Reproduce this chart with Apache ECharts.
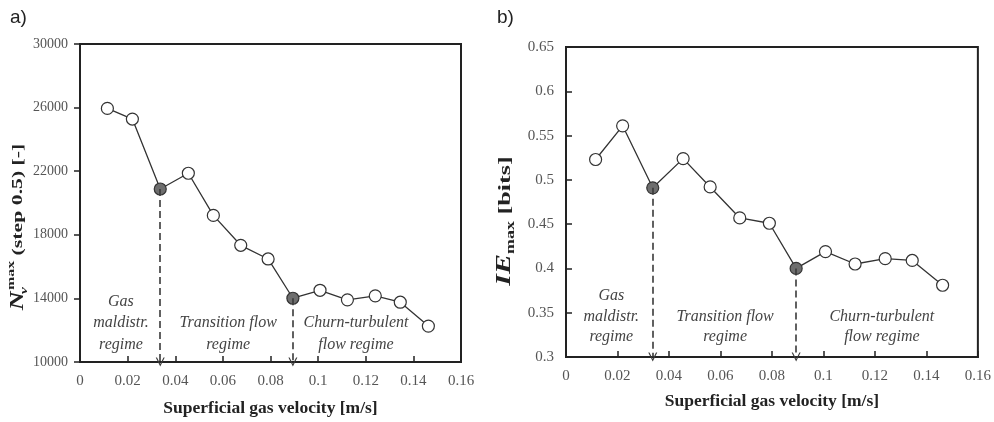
<!DOCTYPE html>
<html>
<head>
<meta charset="utf-8">
<script src="https://cdn.jsdelivr.net/npm/echarts@6/dist/echarts.min.js"></script>
<style>
  html, body { margin: 0; padding: 0; background: #fff; }
  #box { width: 994px; height: 422px; }
</style>
</head>
<body>
<div id="box"></div>
<script>
// superficial gas velocity [m/s]
var velocity = [0.0115, 0.022, 0.0337, 0.0455, 0.056, 0.0675, 0.079, 0.0894, 0.1008, 0.1123, 0.124, 0.1345, 0.1463];
// a) Nv max (step 0.5)
var nvMax = [25950, 25280, 20880, 21870, 19220, 17340, 16480, 14010, 14510, 13910, 14160, 13760, 12260];
// b) IE max [bits]
var ieMax = [0.523, 0.561, 0.491, 0.524, 0.492, 0.457, 0.451, 0.400, 0.419, 0.405, 0.411, 0.409, 0.381];
// regime transition points (filled markers)
var transitionIdx = [2, 7];

var xTicks = [0, 0.02, 0.04, 0.06, 0.08, 0.1, 0.12, 0.14, 0.16];
var nvTicks = [10000, 14000, 18000, 22000, 26000, 30000];
var ieTicks = [0.3, 0.35, 0.4, 0.45, 0.5, 0.55, 0.6, 0.65];

var regimeNames = ['Gas\nmaldistr.\nregime', 'Transition flow\nregime', 'Churn-turbulent\nflow regime'];
var regimeXa = [0.0172, 0.0622, 0.1159];
var regimeYa = [12445, 11787, 11787];
var regimeXb = [0.0176, 0.0618, 0.1227];
var regimeYb = [0.3455, 0.3341, 0.3341];

var serif = '"Liberation Serif", "Times New Roman", serif';
var myChart = echarts.init(document.getElementById('box'));

function points(ys) {
    var list = [];
    for (let i = 0; i < ys.length; i++) {
        var item = { value: [velocity[i], ys[i]] };
        if (transitionIdx.indexOf(i) >= 0) {
            item.itemStyle = { color: '#6e6e6e' };
        }
        list.push(item);
    }
    return list;
}

function arrows(ys, bottom) {
    return transitionIdx.map(function (i) {
        return [{ coord: [velocity[i], ys[i]] }, { coord: [velocity[i], bottom] }];
    });
}

function regimes(xs, ys) {
    var list = [];
    for (let i = 0; i < regimeNames.length; i++) {
        list.push({ coord: [xs[i], ys[i]], value: regimeNames[i] });
    }
    return list;
}

function xAxisOf(idx, gap) {
    return {
        gridIndex: idx,
        type: 'value',
        min: 0,
        max: 0.16,
        name: 'Superficial gas velocity [m/s]',
        nameLocation: 'middle',
        nameGap: gap,
        nameTextStyle: { fontFamily: serif, fontWeight: 'bold', fontSize: 17.5, color: '#222' },
        axisLine: { show: true, lineStyle: { color: '#222', width: 2 } },
        axisTick: { show: true, inside: true, length: 6, customValues: xTicks, lineStyle: { color: '#222', width: 1.5 } },
        axisLabel: { customValues: xTicks, fontFamily: serif, fontSize: 15, color: '#555', margin: 12 },
        splitLine: { show: false }
    };
}

var arrowHead = 'path://M0,10 L5,0 L10,10 L8.6,10 L5,2.8 L1.4,10 Z';

function markerSeries(idx, ys, xs, rys, bottom, lh) {
    return [{
        type: 'line',
        xAxisIndex: idx,
        yAxisIndex: idx,
        data: [],
        z: 1,
        silent: true,
        markLine: {
            silent: true,
            symbol: ['none', arrowHead],
            symbolSize: [9, 9],
            label: { show: false },
            lineStyle: { color: '#3a3a3a', type: [7, 4], width: 1.6 },
            data: arrows(ys, bottom)
        },
        markPoint: {
            symbol: 'circle',
            symbolSize: 0,
            label: {
                show: true,
                position: 'inside',
                formatter: function (p) { return p.value; },
                fontFamily: serif,
                fontStyle: 'italic',
                fontSize: 16,
                lineHeight: lh,
                color: '#444'
            },
            data: regimes(xs, rys)
        }
    }, {
        type: 'line',
        xAxisIndex: idx,
        yAxisIndex: idx,
        z: 3,
        data: points(ys),
        symbol: 'circle',
        symbolSize: 12,
        lineStyle: { color: '#333', width: 1.3 },
        itemStyle: { color: '#fff', borderColor: '#333', borderWidth: 1.2 }
    }];
}

var option = {
    backgroundColor: '#fff',
    animation: false,
    grid: [
        { left: 80, top: 44, width: 381, height: 319, show: true, borderColor: '#222', borderWidth: 2 },
        { left: 566, top: 47, width: 416, height: 310, show: true, borderColor: '#222', borderWidth: 2 }
    ],
    xAxis: [xAxisOf(0, 37), xAxisOf(1, 35)],
    yAxis: [{
        gridIndex: 0,
        type: 'value',
        min: 10000,
        max: 30000,
        axisLine: { show: true, lineStyle: { color: '#222', width: 2 } },
        axisTick: { show: true, inside: false, length: 6, customValues: nvTicks, lineStyle: { color: '#222', width: 1.5 } },
        axisLabel: {
            customValues: nvTicks,
            formatter: function (v) { return String(v); },
            fontFamily: serif, fontSize: 14, color: '#555', margin: 12
        },
        splitLine: { show: false }
    }, {
        gridIndex: 1,
        type: 'value',
        min: 0.3,
        max: 0.65,
        axisLine: { show: true, lineStyle: { color: '#222', width: 2 } },
        axisTick: { show: true, inside: true, length: 6, customValues: ieTicks, lineStyle: { color: '#222', width: 1.5 } },
        axisLabel: {
            customValues: ieTicks,
            formatter: function (v) { return String(+v.toFixed(2)); },
            fontFamily: serif, fontSize: 15, color: '#555', margin: 12
        },
        splitLine: { show: false }
    }],
    series: markerSeries(0, nvMax, regimeXa, regimeYa, 10000, 21.5)
        .concat(markerSeries(1, ieMax, regimeXb, regimeYb, 0.3, 20.5)),
    graphic: [{
        type: 'text',
        left: 10,
        top: 8,
        style: { text: 'a)', font: '19px "Liberation Sans", Arial, sans-serif', fill: '#222' }
    }, {
        type: 'text',
        left: 497,
        top: 8,
        style: { text: 'b)', font: '19px "Liberation Sans", Arial, sans-serif', fill: '#222' }
    }, {
        type: 'text',
        x: 18,
        y: 227,
        rotation: Math.PI / 2,
        scaleX: 1.45,
        style: {
            text: '{n|N}{v|v}{m|max}{t| (step 0.5) [-]}',
            align: 'center',
            verticalAlign: 'middle',
            fill: '#222',
            rich: {
                n: { fontFamily: serif, fontWeight: 'bold', fontStyle: 'italic', fontSize: 18, lineHeight: 24 },
                v: { fontFamily: serif, fontWeight: 'bold', fontStyle: 'italic', fontSize: 11, width: 1, verticalAlign: 'bottom', lineHeight: 24 },
                m: { fontFamily: serif, fontWeight: 'bold', fontSize: 11, verticalAlign: 'top', lineHeight: 24 },
                t: { fontFamily: serif, fontWeight: 'bold', fontSize: 15, lineHeight: 24 }
            }
        }
    }, {
        type: 'text',
        x: 505,
        y: 221,
        rotation: Math.PI / 2,
        scaleX: 1.5,
        style: {
            text: '{i|IE}{m|max}{t| [bits]}',
            align: 'center',
            verticalAlign: 'middle',
            fill: '#222',
            rich: {
                i: { fontFamily: serif, fontWeight: 'bold', fontStyle: 'italic', fontSize: 20, lineHeight: 24 },
                m: { fontFamily: serif, fontWeight: 'bold', fontSize: 12, verticalAlign: 'bottom', lineHeight: 24 },
                t: { fontFamily: serif, fontWeight: 'bold', fontSize: 17.5, lineHeight: 24 }
            }
        }
    }]
};
myChart.setOption(option);
</script>
</body>
</html>
